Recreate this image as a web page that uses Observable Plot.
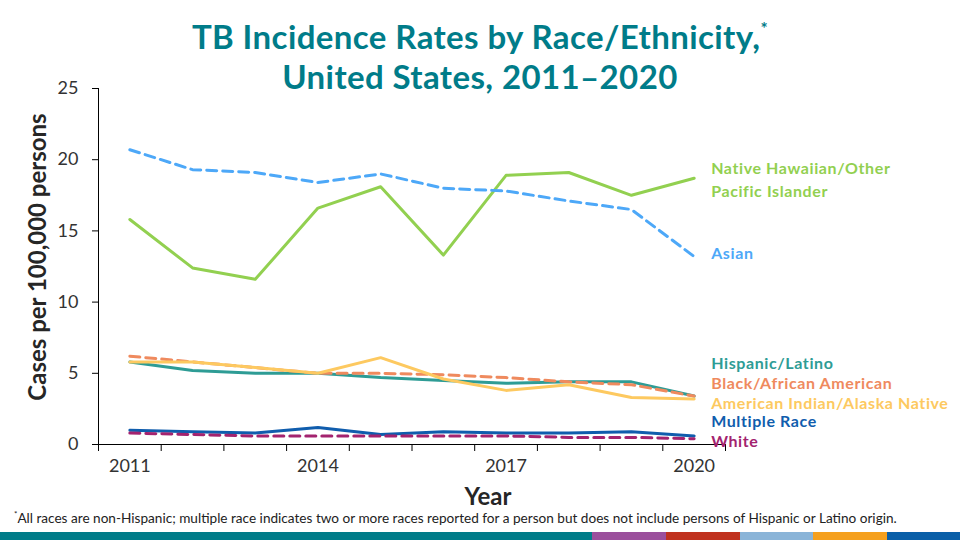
<!DOCTYPE html>
<html>
<head>
<meta charset="utf-8">
<script src="https://cdn.jsdelivr.net/npm/d3@7"></script>
<script src="https://cdn.jsdelivr.net/npm/@observablehq/plot@0.6"></script>
<style>
  html, body { margin: 0; padding: 0; background: #fff; }
  #wrap { position: relative; width: 960px; height: 540px; overflow: hidden; font-family: Lato, "Open Sans", sans-serif; }
  .title { position: absolute; left: 0; width: 960px; text-align: center; color: #007C89; font-weight: bold; font-size: 33px; line-height: 34px; height: 34px; letter-spacing: 0.4px; }
  #t1 { top: 19px; }
  #t2 { top: 59px; }
  .title sup { font-size: 17px; vertical-align: 14px; line-height: 0; }
  #ylab { position: absolute; left: 36px; top: 257px; transform: translate(-50%, -50%) rotate(-90deg); white-space: nowrap; font-weight: bold; font-size: 24px; color: #262626; }
  #xlab { position: absolute; left: 488px; top: 495px; transform: translate(-50%, -50%); font-weight: bold; font-size: 24px; color: #262626; }
  #chart { position: absolute; left: 0; top: 0; }
  #foot { position: absolute; left: 14px; top: 509px; font-size: 13.6px; color: #222; white-space: nowrap; }
  #foot sup { font-size: 8px; }
  #bar { position: absolute; left: 0; top: 532px; width: 960px; height: 8px; display: flex; }
  #bar div { height: 8px; }
</style>
</head>
<body>
<div id="wrap">
  <div id="chart"></div>
  <div class="title" id="t1">TB Incidence Rates by Race/Ethnicity,<sup>*</sup></div>
  <div class="title" id="t2">United States, 2011–2020</div>
  <div id="ylab">Cases per 100,000 persons</div>
  <div id="xlab">Year</div>
  <div id="foot"><sup>*</sup>All races are non-Hispanic; multiple race indicates two or more races reported for a person but does not include persons of Hispanic or Latino origin.</div>
  <div id="bar"></div>
</div>
<script>
// ---- data ----
const years = [2011, 2012, 2013, 2014, 2015, 2016, 2017, 2018, 2019, 2020];
const nhopi    = [15.8, 12.4, 11.6, 16.6, 18.1, 13.3, 18.9, 19.1, 17.5, 18.7];
const asian    = [20.7, 19.3, 19.1, 18.4, 19.0, 18.0, 17.8, 17.1, 16.5, 13.2];
const hispanic = [5.8, 5.2, 5.0, 5.0, 4.7, 4.5, 4.3, 4.4, 4.4, 3.4];
const black    = [6.2, 5.8, 5.4, 5.0, 5.0, 4.9, 4.7, 4.4, 4.2, 3.4];
const aian     = [5.8, 5.8, 5.4, 5.0, 6.1, 4.6, 3.8, 4.2, 3.3, 3.2];
const multi    = [1.0, 0.9, 0.8, 1.2, 0.7, 0.9, 0.8, 0.8, 0.9, 0.6];
const white    = [0.8, 0.7, 0.6, 0.6, 0.6, 0.6, 0.6, 0.5, 0.5, 0.4];
const seriesNames = ["Native Hawaiian/Other\nPacific Islander", "Asian", "Hispanic/Latino", "Black/African American", "American Indian/Alaska Native", "Multiple Race", "White"];
const seriesValues = [nhopi, asian, hispanic, black, aian, multi, white];
const seriesColors = ["#92D050", "#4DA8F8", "#2E9C95", "#EF8A5E", "#FDC960", "#105DAD", "#A3236F"];
const seriesDashed = [false, true, false, true, false, false, true];
const labelDy = [0, -5, -34, -14.5, 2.5, -16, 0.5];
const yTicks = [0, 5, 10, 15, 20, 25];
const xTickLabels = [2011, 2014, 2017, 2020];
const barColors = ["#007C89", "#9B4F9C", "#C0321F", "#8AB4D8", "#F5A01E", "#0A5FA8"];
const barWidths = [592, 74, 74, 73, 74, 73];

// ---- build ----
const series = seriesNames.map((name, i) => ({
  name, color: seriesColors[i], dashed: seriesDashed[i], dy: labelDy[i],
  rows: years.map((y, j) => ({year: y, value: seriesValues[i][j]}))
}));
const bounds = d3.range(years[0] - 0.5, years[years.length - 1] + 0.51, 1);

const lineMarks = series.map(s => Plot.line(s.rows, {
  x: "year", y: "value", stroke: s.color, strokeWidth: 3,
  strokeDasharray: s.dashed ? "10,6" : null, strokeLinejoin: "round"
}));
const labelMarks = series.map(s => Plot.text([s.rows[s.rows.length - 1]], {
  x: "year", y: "value", text: () => s.name, fill: s.color, dx: 17, dy: s.dy,
  textAnchor: "start", fontWeight: "bold", fontSize: 16, lineHeight: 1.42, lineAnchor: "middle"
}));

const chart = Plot.plot({
  width: 960, height: 505,
  marginTop: 88, marginBottom: 61, marginLeft: 98, marginRight: 235,
  style: {fontFamily: "Lato, 'Open Sans', sans-serif", fontSize: "18px", background: "transparent", overflow: "visible"},
  x: {domain: [bounds[0], bounds[bounds.length - 1]]},
  y: {domain: [0, 25]},
  marks: [
    Plot.axisY({ticks: yTicks, tickSize: 6, tickPadding: 14, fontSize: 18, label: null, color: "#333", stroke: "#000"}),
    Plot.axisX({ticks: bounds, tickSize: 7, tickFormat: () => "", label: null, stroke: "#000"}),
    Plot.axisX({ticks: xTickLabels, tickSize: 0, tickPadding: 15, tickFormat: d => String(d), fontSize: 18, label: null, color: "#333"}),
    Plot.ruleX([bounds[0]], {y1: 0, y2: 25, stroke: "#000", strokeWidth: 1}),
    Plot.ruleY([0], {x1: bounds[0], x2: bounds[bounds.length - 1], stroke: "#000", strokeWidth: 1}),
    ...lineMarks,
    ...labelMarks
  ]
});
chart.querySelectorAll("text").forEach(t => {
  if (t.getAttribute("font-weight") === "bold" || t.closest("g[font-weight='bold']")) t.style.letterSpacing = "0.6px";
});
document.getElementById("chart").appendChild(chart);

const bar = document.getElementById("bar");
barColors.forEach((c, i) => {
  const d = document.createElement("div");
  d.style.background = c; d.style.width = barWidths[i] + "px";
  bar.appendChild(d);
});
</script>
</body>
</html>
